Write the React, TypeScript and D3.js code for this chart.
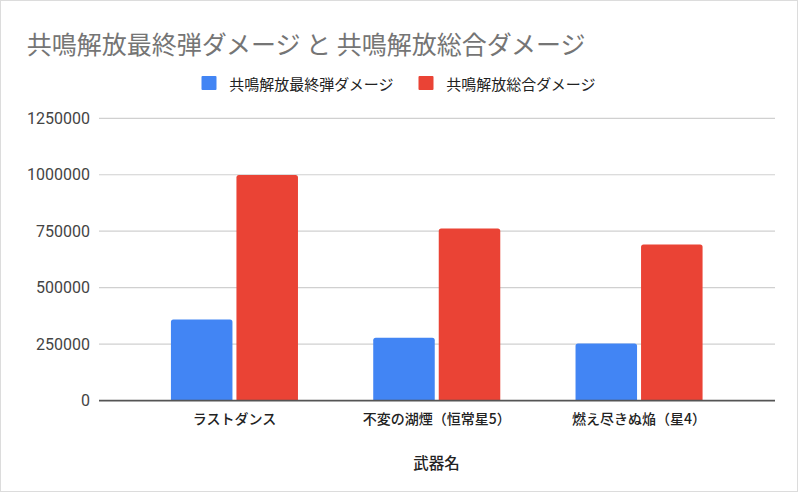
import * as d3 from "d3";

const categories = ["ラストダンス", "不変の湖煙（恒常星5）", "燃え尽きぬ焔（星4）"];
const seriesNames = ["共鳴解放最終弾ダメージ", "共鳴解放総合ダメージ"];
const finalDamage = [359000, 278000, 253000];
const totalDamage = [999000, 762000, 691000];
const yTicks = [0, 250000, 500000, 750000, 1000000, 1250000];

const colors = ["#4285F4", "#EA4335"];
const W = 800;
const H = 495;
const cjk = "'Noto Sans CJK JP', 'Noto Sans', sans-serif";

// top-rounded bar path
function barPath(x: number, y: number, w: number, h: number, r: number) {
  const rr = Math.min(r, h / 2, w / 2);
  return `M${x},${y + h}V${y + rr}Q${x},${y} ${x + rr},${y}H${x + w - rr}Q${x + w},${y} ${x + w},${y + rr}V${y + h}Z`;
}

export default function App() {
  const plotLeft = 99;
  const plotRight = 775;

  const x0 = d3.scaleBand<string>().domain(categories).range([133.3, 740.2]).paddingInner(0.372).paddingOuter(0.186);
  const x1 = d3.scaleBand<string>().domain(seriesNames).range([0, x0.bandwidth()]).paddingInner(0.061).paddingOuter(0);
  const y = d3.scaleLinear().domain([0, 1250000]).range([400.6, 118.3]);

  const rows = categories.map((c, i) => ({ cat: c, values: [finalDamage[i], totalDamage[i]] }));

  return (
    <div style={{ position: "absolute", left: 0, top: 0 }}>
      <svg width={W} height={H} style={{ display: "block", background: "#fff" }}>
        <rect x={0.5} y={0.5} width={797} height={491} fill="#fff" stroke="#dcdcdc" />

        <text x={26.7} y={42.5} dominantBaseline="central" fontFamily={cjk} fontSize={25} fill="#757575">
          共鳴解放最終弾ダメージ と 共鳴解放総合ダメージ
        </text>

        {/* legend */}
        {[201.5, 418.5].map((lx, i) => (
          <g key={seriesNames[i]}>
            <rect x={lx} y={76} width={15} height={14} rx={1} fill={colors[i]} />
            <text x={lx + 27.8} y={83} dominantBaseline="central" fontFamily={cjk} fontSize={15} fill="#222">
              {seriesNames[i]}
            </text>
          </g>
        ))}

        {/* grid + y labels */}
        {yTicks.map((t) => (
          <g key={t}>
            {t !== 0 && (
              <line x1={plotLeft} x2={plotRight} y1={y(t)} y2={y(t)} stroke="#d0d0d0" strokeWidth={1.2} />
            )}
            <text
              x={90}
              y={y(t)}
              textAnchor="end"
              dominantBaseline="central"
              fontFamily="Roboto, Arial, sans-serif"
              fontSize={16}
              fill="#444"
            >
              {t}
            </text>
          </g>
        ))}

        {/* bars */}
        {rows.map((r) => (
          <g key={r.cat} transform={`translate(${x0(r.cat)},0)`}>
            {r.values.map((v, j) => (
              <path
                key={seriesNames[j]}
                d={barPath(x1(seriesNames[j])!, y(v), x1.bandwidth(), y(0) - y(v), 2.5)}
                fill={colors[j]}
              />
            ))}
          </g>
        ))}

        <line x1={plotLeft} x2={plotRight} y1={y(0)} y2={y(0)} stroke="#555" strokeWidth={1.6} />

        {/* category labels */}
        {categories.map((c) => (
          <text
            key={c}
            x={x0(c)! + x0.bandwidth() / 2}
            y={418}
            textAnchor="middle"
            dominantBaseline="central"
            fontFamily={cjk}
            fontSize={14}
            fontWeight={500}
            fill="#222"
          >
            {c}
          </text>
        ))}

        <text x={436.5} y={461.5} textAnchor="middle" dominantBaseline="central" fontFamily={cjk} fontSize={15.5} fontWeight={500} fill="#222">
          武器名
        </text>
      </svg>
    </div>
  );
}
